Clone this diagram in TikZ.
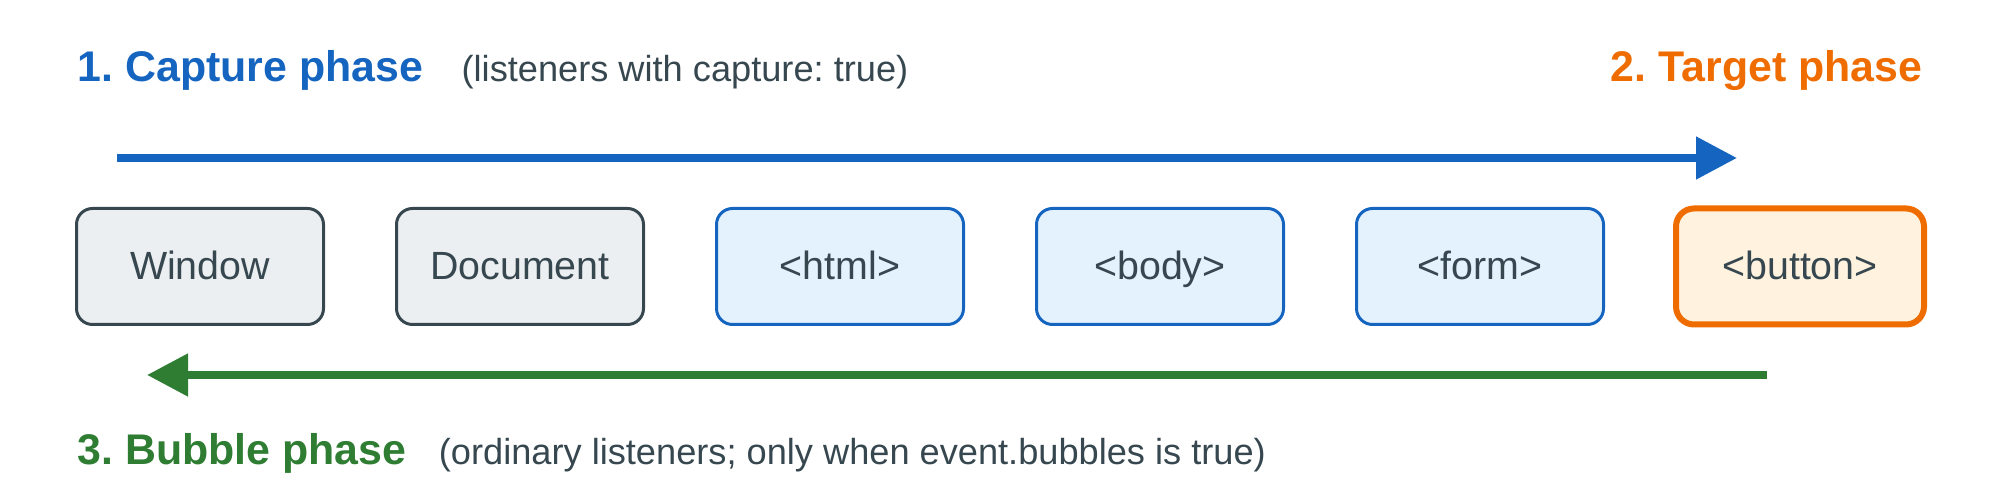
\documentclass[tikz,border=0pt]{standalone}
\usepackage{fontspec}
\setmainfont{Liberation Sans}
\usepackage{tikz}
\usepackage{xcolor}
\usetikzlibrary{positioning,arrows.meta,calc}
\definecolor{capBlue}{HTML}{1565C0}
\definecolor{tgtOrange}{HTML}{EF6C00}
\definecolor{bubGreen}{HTML}{2E7D32}
\definecolor{slateText}{HTML}{37474F}
\definecolor{grayFill}{HTML}{ECEFF1}
\definecolor{blueFill}{HTML}{E3F2FD}
\definecolor{orangeFill}{HTML}{FFF3E0}
\frenchspacing

\begin{document}
\begin{tikzpicture}[text=slateText]
    \useasboundingbox (0,0) rectangle (20,5);

    % Shapes
    \tikzstyle{elem}=[rectangle, rounded corners=0.16cm, minimum width=2.47cm, minimum height=1.16cm, inner sep=0, outer sep=0, text height=0.716em, text depth=0pt, font=\fontsize{11.2}{13}\selectfont]
    \tikzstyle{elemGray}=[elem, draw=slateText, fill=grayFill, line width=0.03cm]
    \tikzstyle{elemBlue}=[elem, draw=capBlue, fill=blueFill, line width=0.03cm]
    \tikzstyle{elemTarget}=[elem, draw=tgtOrange, fill=orangeFill, line width=0.06cm, minimum width=2.48cm, rounded corners=0.18cm]
    \tikzstyle{phase}=[inner sep=0, font=\fontsize{12.2}{14}\selectfont\bfseries]
    \tikzstyle{note}=[inner sep=0, font=\fontsize{10.3}{12}\selectfont]
    \tikzstyle{flow}=[line width=0.08cm, -{Triangle[length=0.41cm, width=0.41cm]}]

    % Elements
    \node[elemGray] at (2,2.335) (elWindow) {Window};
    \node[elemGray] at (2+3.2,2.335) (elDoc) {Document};
    \node[elemBlue] at (2+3.2*2,2.335) (elHtml) {<html>};
    \node[elemBlue] at (2+3.2*3,2.335) (elBody) {<body>};
    \node[elemBlue] at (2+3.2*4,2.335) (elForm) {<form>};
    \node[elemTarget] at (2+3.2*5,2.335) (elButton) {<button>};

    % Phase titles
    \node[phase, text=capBlue, anchor=base west] at (0.77,4.18) (capTitle) {1. Capture phase};
    \node[note, right=0.37cm of capTitle.base east, anchor=base west] (capNote) {(listeners with capture: true)};
    \node[phase, text=tgtOrange, anchor=base east] at (19.23,4.18) (tgtTitle) {2. Target phase};
    \node[phase, text=bubGreen, anchor=base west] at (0.77,0.35) (bubTitle) {3. Bubble phase};
    \node[note, right=0.31cm of bubTitle.base east, anchor=base west] (bubNote) {(ordinary listeners; only when event.bubbles is true)};

    % Arrows
    \coordinate (capFrom) at (1.17,3.42);
    \coordinate (capTo) at (17.37,3.42);
    \coordinate (bubFrom) at (17.67,1.25);
    \coordinate (bubTo) at (1.47,1.25);
    \draw[flow, capBlue] (capFrom) -- (capTo);
    \draw[flow, bubGreen] (bubFrom) -- (bubTo);
\end{tikzpicture}
\end{document}
